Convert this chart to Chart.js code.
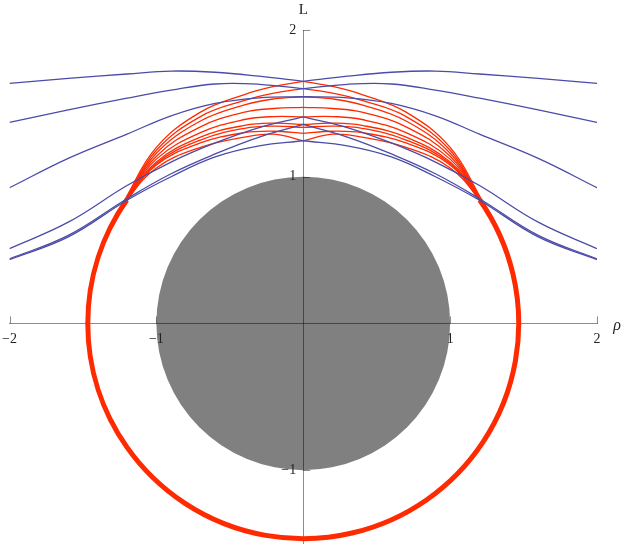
<!DOCTYPE html>
<html>
<head>
<meta charset="utf-8">
<script src="https://cdn.jsdelivr.net/npm/chart.js@4.4.1/dist/chart.umd.min.js"></script>
<style>
    html, body { margin: 0; padding: 0; background: #fff; }
</style>
</head>
<body>
<canvas id="chart" width="623" height="544"></canvas>
<script>
// axes
let xRange = [-2, 2]
let yRange = [-1.5, 2]
let xTicks = [-2, -1, 1, 2]
let yTicks = [-1, 1, 2]

// gray disk
let diskCenter = [0, 0]
let diskRadius = 1

// thick red ring: radius, and the half-angle (deg from the top) left open where the thin arcs take over
let ringRadius = 1.467
let ringOpen = 55

// thin red arcs, left halves (the right halves are their mirror images)
let arcRho = [-1.32, -1.2, -1.0, -0.7, -0.4, -0.2, 0]
let arc1 = [0.64, 0.87, 1.20, 1.44, 1.56, 1.615, 1.65]
let arc2 = [0.64, 0.86, 1.18, 1.41, 1.52, 1.57, 1.60]
let arc3 = [0.64, 0.86, 1.16, 1.38, 1.49, 1.53, 1.545]
let arc4 = [0.64, 0.85, 1.14, 1.34, 1.44, 1.465, 1.472]
let arc5 = [0.64, 0.85, 1.12, 1.30, 1.39, 1.41, 1.408]
let arc6 = [0.64, 0.85, 1.10, 1.27, 1.35, 1.365, 1.356]
let arc7 = [0.64, 0.84, 1.09, 1.25, 1.33, 1.345, 1.336]
let arc8 = [0.64, 0.84, 1.08, 1.23, 1.30, 1.31, 1.295]
let arc9 = [0.64, 0.84, 1.06, 1.20, 1.27, 1.29, 1.245]

// blue curves, left halves
let curveRho = [-2, -1.6, -1.2, -0.9, -0.6, -0.3, 0]
let curve1 = [1.636, 1.67, 1.70, 1.72, 1.712, 1.685, 1.65]
let curve2 = [1.37, 1.455, 1.535, 1.59, 1.632, 1.63, 1.60]
let curve3 = [0.925, 1.125, 1.29, 1.415, 1.50, 1.538, 1.545]
let curve4 = [0.51, 0.69, 0.94, 1.10, 1.23, 1.335, 1.408]
let curve5 = [0.44, 0.60, 0.85, 1.02, 1.155, 1.27, 1.356]
let curve6 = [0.435, 0.59, 0.84, 1.0, 1.135, 1.21, 1.245]

let red = "#ff2a00"
let blue = "#4b4ba8"
let gray = "#808080"
let axisColor = "rgba(0, 0, 0, 0.45)"
let serif = '"Liberation Serif", "DejaVu Serif", serif'

let arcs = [arc1, arc2, arc3, arc4, arc5, arc6, arc7, arc8, arc9]
let curves = [curve1, curve2, curve3, curve4, curve5, curve6]

function side(rhos, ls, sign) {
    return rhos.map((r, i) => ({ x: sign * r, y: ls[i] }))
}

function line(data, color, width) {
    return {
        data: data,
        showLine: true,
        borderColor: color,
        borderWidth: width,
        pointRadius: 0,
        tension: 0.4,
        fill: false
    }
}

let datasets = []

// blue first so it sits on top of the red
for (let c of curves) {
    datasets.push(line(side(curveRho, c, 1), blue, 1.3))
    datasets.push(line(side(curveRho, c, -1), blue, 1.3))
}

for (let a of arcs) {
    datasets.push(line(side(arcRho, a, 1), red, 1.3))
    datasets.push(line(side(arcRho, a, -1), red, 1.3))
}

function fmt(v) {
    return v < 0 ? "\u2212" + Math.abs(v) : String(v)
}

function noRoom(s) {
    s.paddingLeft = 0
    s.paddingRight = 0
    s.paddingTop = 0
    s.paddingBottom = 0
    if (s.isHorizontal()) s.height = 0
    else s.width = 0
}

const decor = {
    id: "decor",
    beforeDraw(chart) {
        let { ctx, scales: { x, y } } = chart
        let cx = x.getPixelForValue(diskCenter[0])
        let cy = y.getPixelForValue(diskCenter[1])
        let rx = x.getPixelForValue(diskCenter[0] + diskRadius) - cx
        let ry = cy - y.getPixelForValue(diskCenter[1] + diskRadius)
        ctx.save()
        ctx.fillStyle = gray
        ctx.beginPath()
        ctx.ellipse(cx, cy, rx, ry, 0, 0, Math.PI * 2)
        ctx.fill()
        ctx.restore()
    },
    beforeDatasetsDraw(chart) {
        let { ctx, scales: { x, y } } = chart
        let cx = x.getPixelForValue(0)
        let cy = y.getPixelForValue(0)
        let rx = x.getPixelForValue(ringRadius) - cx
        let ry = cy - y.getPixelForValue(ringRadius)
        let open = ringOpen * Math.PI / 180
        ctx.save()
        ctx.strokeStyle = red
        ctx.lineWidth = 5
        ctx.beginPath()
        ctx.ellipse(cx, cy, rx, ry, 0, open - Math.PI / 2, 3 * Math.PI / 2 - open)
        ctx.stroke()
        ctx.restore()
    },
    afterDraw(chart) {
        let { ctx, chartArea, scales: { x, y } } = chart
        let x0 = x.getPixelForValue(0)
        let y0 = y.getPixelForValue(0)
        ctx.save()
        ctx.strokeStyle = axisColor
        ctx.lineWidth = 1
        ctx.beginPath()
        for (let v of xTicks) {
            let px = Math.round(x.getPixelForValue(v)) + 0.5
            ctx.moveTo(px, y0)
            ctx.lineTo(px, y0 - 7)
        }
        for (let v of yTicks) {
            let py = Math.round(y.getPixelForValue(v)) + 0.5
            ctx.moveTo(x0, py)
            ctx.lineTo(x0 + 7, py)
        }
        ctx.stroke()

        ctx.fillStyle = "#222"
        ctx.textAlign = "center"
        ctx.textBaseline = "middle"
        ctx.font = "15px " + serif
        ctx.fillText("L", x0, chartArea.top - 20)
        ctx.font = "italic 16px " + serif
        ctx.fillText("\u03c1", chartArea.right + 20, y0 + 2)
        ctx.restore()
    }
}

new Chart(document.getElementById("chart"), {
    type: "scatter",
    data: { datasets: datasets },
    options: {
        responsive: false,
        animation: false,
        devicePixelRatio: 1,
        layout: { padding: { left: 9.5, right: 26, top: 30, bottom: 0.5 } },
        plugins: {
            legend: { display: false },
            tooltip: { enabled: false }
        },
        scales: {
            x: {
                type: "linear",
                min: xRange[0],
                max: xRange[1],
                position: { y: 0 },
                afterBuildTicks: s => { s.ticks = xTicks.map(v => ({ value: v })) },
                afterFit: noRoom,
                grid: { display: false, drawTicks: false },
                border: { display: true, color: axisColor, width: 1 },
                ticks: {
                    padding: 7,
                    autoSkip: false,
                    maxRotation: 0,
                    color: "#222",
                    font: { family: serif, size: 14 },
                    callback: v => fmt(v)
                }
            },
            y: {
                type: "linear",
                min: yRange[0],
                max: yRange[1],
                position: { x: 0 },
                afterBuildTicks: s => { s.ticks = yTicks.map(v => ({ value: v })) },
                afterFit: noRoom,
                grid: { display: false, drawTicks: false },
                border: { display: true, color: axisColor, width: 1 },
                ticks: {
                    autoSkip: false,
                    color: "#222",
                    font: { family: serif, size: 14 },
                    callback: v => fmt(v) + "\u2002"
                }
            }
        }
    },
    plugins: [decor]
})
</script>
</body>
</html>
